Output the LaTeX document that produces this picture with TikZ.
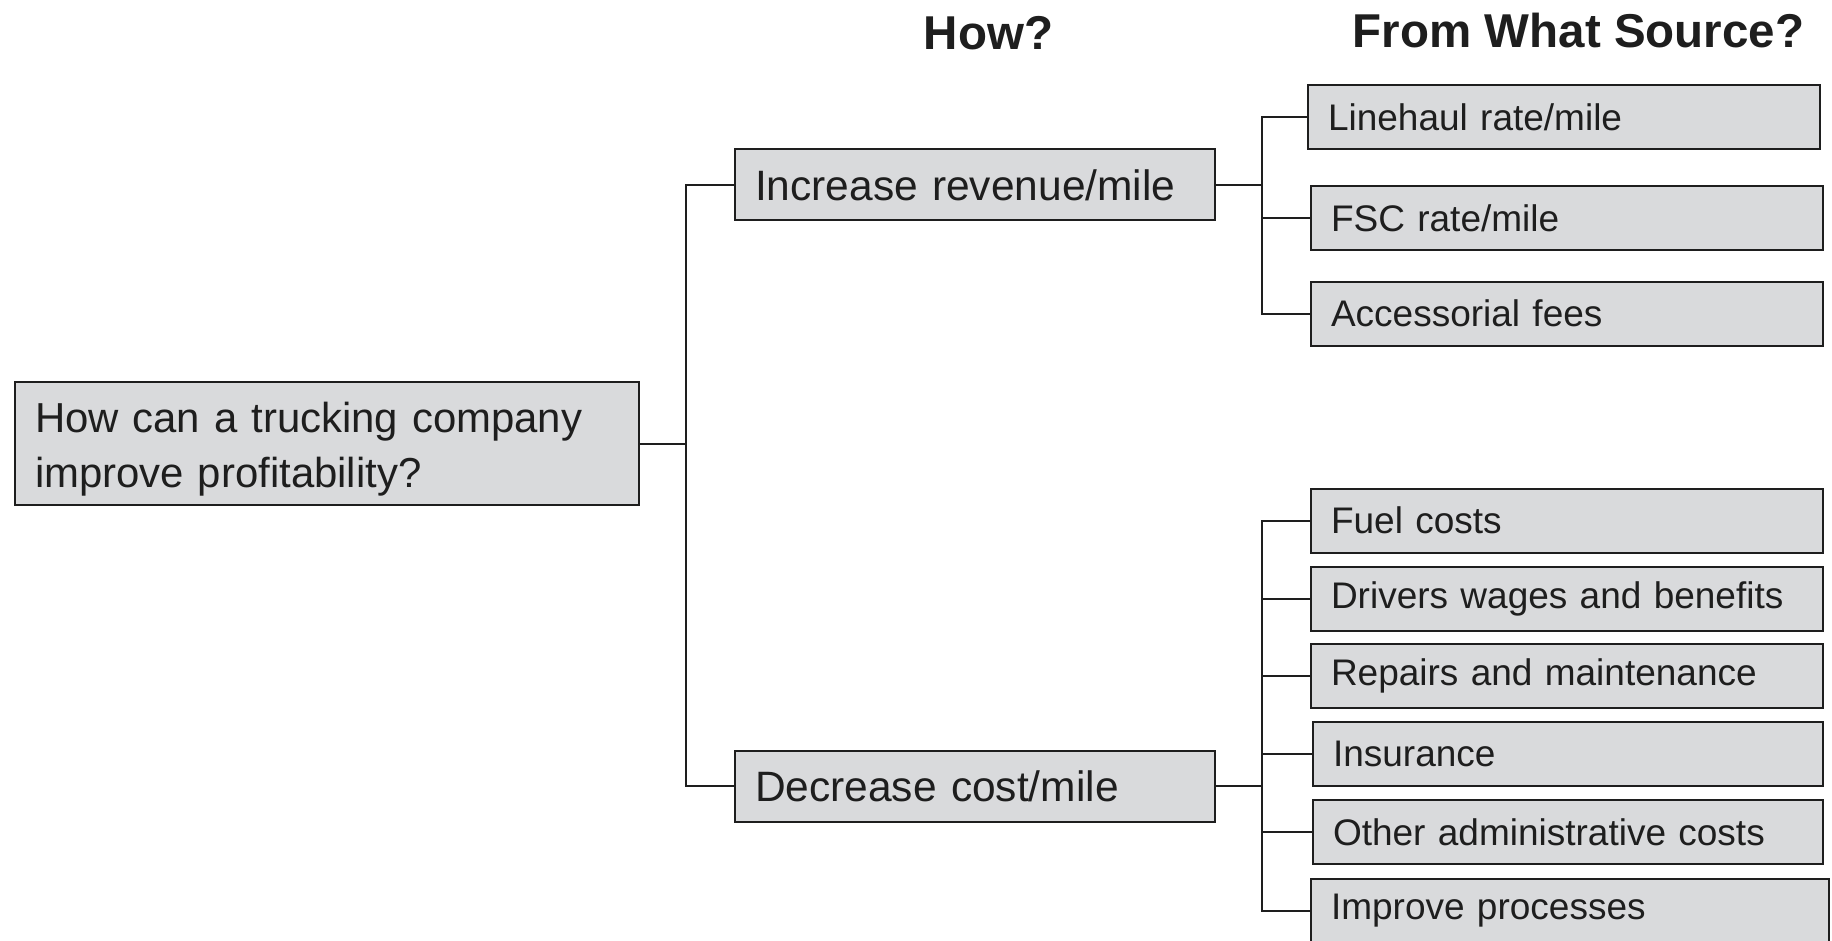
\documentclass[tikz,border=0pt]{standalone}
\usepackage{fontspec}
\setmainfont{Liberation Sans}
\definecolor{boxfill}{RGB}{217,218,220}
\definecolor{ink}{RGB}{30,30,30}
\begin{document}
\begin{tikzpicture}[x=1pt,y=-1pt,
  box/.style={draw=ink,line width=2pt,fill=boxfill,rectangle,anchor=west,
    align=left,inner xsep=20pt,inner ysep=0pt,text=ink},
  rootbox/.style={box,text width=584pt,minimum height=123pt,
    font=\fontsize{41.9}{55}\selectfont},
  howbox/.style={box,text width=440pt,minimum height=71pt,
    font=\fontsize{42.5}{53}\selectfont},
  leafbox/.style={box,minimum height=64pt,
    font=\fontsize{37}{44}\selectfont},
  heading/.style={font=\bfseries\fontsize{47.5}{55}\selectfont,text=ink,inner sep=0pt},
  link/.style={draw=ink,line width=2pt}]
\useasboundingbox (0,0) rectangle (1832,941);

% column headings
\node[heading] (how) at (988.5,33) {How?};
\node[heading] (src) at (1578.5,31) {From What Source?};

% question (the strut lowers the two lines a little inside the box)
\node[rootbox] (root) at (14,443.5)
  {\rule{0pt}{41pt}How can a trucking company\\improve profitability?};

% ways
\node[howbox] (inc) at (734,185) {Increase revenue/mile};
\node[howbox] (dec) at (734,786) {Decrease cost/mile};

% revenue sources
\node[leafbox,text width=472pt] (l1) at (1307,117.5) {Linehaul rate/mile};
\node[leafbox,text width=472pt] (l2) at (1310,218) {FSC rate/mile};
\node[leafbox,text width=472pt] (l3) at (1310,313.7) {Accessorial fees};

% cost sources
\node[leafbox,text width=472pt] (c1) at (1310,520.5) {Fuel costs};
\node[leafbox,text width=472pt] (c2) at (1310,599) {Drivers wages and benefits};
\node[leafbox,text width=472pt] (c3) at (1310,676) {Repairs and maintenance};
\node[leafbox,text width=470pt] (c4) at (1312,754) {Insurance};
\node[leafbox,text width=470pt] (c5) at (1312,832) {Other administrative costs};
\node[leafbox,text width=478pt] (c6) at (1310,911) {Improve processes};

% junction columns
\coordinate (j1) at (686,0);
\coordinate (j2) at (1262,0);

% question to ways
\draw[link] (root.east) -- (root.east -| j1);
\draw[link] (inc.west) -| (j1 |- root.east) |- (dec.west);

% revenue branch
\draw[link] (inc.east) -- (inc.east -| j2);
\draw[link] (l1.west) -| (j2 |- l2.west) |- (l3.west);
\draw[link] (j2 |- l2.west) -- (l2.west);

% cost branch
\draw[link] (dec.east) -- (dec.east -| j2);
\draw[link] (c1.west) -| (j2 |- c3.west) |- (c6.west);
\foreach \n in {c2,c3,c4,c5}
  \draw[link] (j2 |- \n.west) -- (\n.west);
\end{tikzpicture}
\end{document}
